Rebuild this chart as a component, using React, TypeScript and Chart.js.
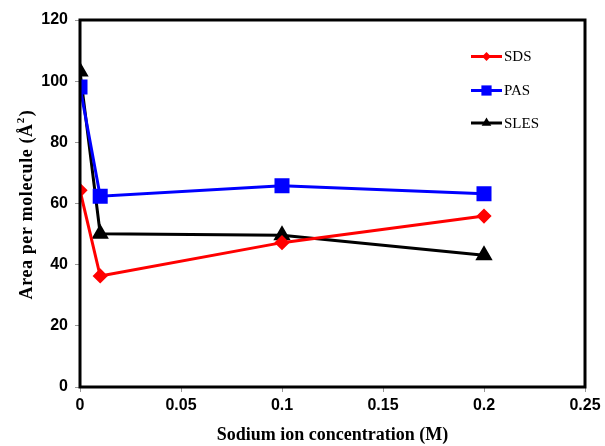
import React, { useEffect, useRef } from "react";
import { Chart, registerables } from "chart.js";

Chart.register(...registerables);

const concentrations = [0, 0.01, 0.1, 0.2];
const sdsValues = [64.3, 36.3, 47.2, 55.9];
const pasValues = [98.1, 62.4, 65.8, 63.2];
const slesValues = [103.2, 50.1, 49.6, 43.1];
const seriesNames = ["SDS", "PAS", "SLES"];
const xTitle = "Sodium ion concentration (M)";
const yTitleMain = "Area per molecule (Å";
const yTitleSup = "2";
const yTitleEnd = ")";

function drawMarker(ctx: CanvasRenderingContext2D, style: string, r: number, x: number, y: number) {
  ctx.beginPath();
  if (style === "rect") {
    const s = Math.SQRT1_2 * r;
    ctx.rect(x - s, y - s, 2 * s, 2 * s);
  } else if (style === "rectRot") {
    ctx.moveTo(x, y - r);
    ctx.lineTo(x + r, y);
    ctx.lineTo(x, y + r);
    ctx.lineTo(x - r, y);
    ctx.closePath();
  } else {
    const h = r * 1.5;
    const w = (r * Math.sqrt(3)) / 2;
    ctx.moveTo(x, y - r);
    ctx.lineTo(x + w, y + h - r);
    ctx.lineTo(x - w, y + h - r);
    ctx.closePath();
  }
  ctx.fill();
}

const frameAndLegend = {
  id: "frameAndLegend",
  afterDatasetsDraw(chart: any) {
    const { ctx, chartArea } = chart;
    ctx.save();
    ctx.strokeStyle = "#000";
    ctx.lineWidth = 3;
    ctx.strokeRect(chartArea.left, chartArea.top, chartArea.right - chartArea.left, chartArea.bottom - chartArea.top);
    const x0 = chartArea.left + 391;
    const x1 = chartArea.left + 422;
    const ys = [chartArea.top + 36.5, chartArea.top + 70.5, chartArea.top + 103];
    chart.data.datasets.forEach((ds: any, i: number) => {
      const y = ys[i];
      ctx.strokeStyle = ds.borderColor;
      ctx.lineWidth = 3;
      ctx.beginPath();
      ctx.moveTo(x0, y);
      ctx.lineTo(x1, y);
      ctx.stroke();
      ctx.fillStyle = ds.pointBackgroundColor;
      const r = ds.pointStyle === "rect" ? ds.pointRadius * 0.85 : ds.pointRadius * 0.8;
      drawMarker(ctx, ds.pointStyle, r, (x0 + x1) / 2, y);
      ctx.fillStyle = "#000";
      ctx.font = "15px 'Liberation Serif'";
      ctx.textBaseline = "middle";
      ctx.textAlign = "left";
      ctx.fillText(ds.label, x1 + 2, y + 1);
    });
    // y axis title with superscript
    const cx = 27;
    const cy = (chartArea.top + chartArea.bottom) / 2 + 1;
    ctx.translate(cx, cy);
    ctx.rotate(-Math.PI / 2);
    const mainFont = "bold 18px 'Liberation Serif'";
    const supFont = "bold 11px 'Liberation Serif'";
    (ctx as any).letterSpacing = "0.6px";
    ctx.font = mainFont;
    const w1 = ctx.measureText(yTitleMain).width;
    const w3 = ctx.measureText(yTitleEnd).width;
    ctx.font = supFont;
    const w2 = ctx.measureText(yTitleSup).width + 1;
    const total = w1 + w2 + w3;
    let x = -total / 2;
    ctx.fillStyle = "#000";
    ctx.textBaseline = "middle";
    ctx.textAlign = "left";
    ctx.font = mainFont;
    ctx.fillText(yTitleMain, x, 0);
    x += w1;
    ctx.font = supFont;
    ctx.fillText(yTitleSup, x, -6);
    x += w2;
    ctx.font = mainFont;
    ctx.fillText(yTitleEnd, x, 0);
    ctx.restore();
  },
};

export default function App() {
  const ref = useRef<HTMLCanvasElement>(null);
  useEffect(() => {
    if (!ref.current) return;
    const mk = (vals: number[]) => concentrations.map((x, i) => ({ x, y: vals[i] }));
    const chart = new Chart(ref.current, {
      type: "line",
      data: {
        datasets: [
          {
            label: seriesNames[0],
            data: mk(sdsValues),
            borderColor: "#ff0000",
            backgroundColor: "#ff0000",
            pointBackgroundColor: "#ff0000",
            pointBorderColor: "#ff0000",
            pointStyle: "rectRot",
            pointRadius: 5.5,
            borderWidth: 3,
            tension: 0,
          },
          {
            label: seriesNames[1],
            data: mk(pasValues),
            borderColor: "#0000ff",
            backgroundColor: "#0000ff",
            pointBackgroundColor: "#0000ff",
            pointBorderColor: "#0000ff",
            pointStyle: "rect",
            pointRadius: 8.5,
            borderWidth: 3,
            tension: 0,
          },
          {
            label: seriesNames[2],
            data: mk(slesValues),
            borderColor: "#000000",
            backgroundColor: "#000000",
            pointBackgroundColor: "#000000",
            pointBorderColor: "#000000",
            pointStyle: "triangle",
            pointRadius: 7,
            borderWidth: 3,
            tension: 0,
          },
        ],
      },
      options: {
        responsive: false,
        animation: false,
        layout: { padding: { top: 20, right: 20, left: 0, bottom: 0 } },
        plugins: { legend: { display: false }, tooltip: { enabled: false } },
        scales: {
          x: {
            type: "linear",
            min: 0,
            max: 0.25,
            ticks: {
              stepSize: 0.05,
              color: "#000",
              font: { family: "'Liberation Sans'", size: 16, weight: "bold" },
              padding: 4,
              maxRotation: 0,
              callback: (v: any) => String(Math.round(Number(v) * 100) / 100),
            },
            grid: { drawOnChartArea: false, drawTicks: true, tickLength: 5, color: "#999" },
            border: { display: false },
            title: {
              display: true,
              text: xTitle,
              color: "#000",
              font: { family: "'Liberation Serif'", size: 18, weight: "bold" },
              padding: { top: 3, bottom: 0 },
            },
            afterFit: (s: any) => {
              s.height = 59;
            },
          },
          y: {
            min: 0,
            max: 120,
            ticks: {
              stepSize: 20,
              color: "#000",
              font: { family: "'Liberation Sans'", size: 16, weight: "bold" },
              padding: 7,
            },
            grid: { drawOnChartArea: false, drawTicks: true, tickLength: 5, color: "#999" },
            border: { display: false },
            title: { display: false },
            afterFit: (s: any) => {
              s.width = 80;
            },
          },
        },
      },
      plugins: [frameAndLegend],
    } as any);
    return () => chart.destroy();
  }, []);
  return (
    <div style={{ position: "fixed", left: 0, top: 0, width: 605, height: 446, background: "#fff" }}>
      <canvas ref={ref} width={605} height={446} />
    </div>
  );
}
